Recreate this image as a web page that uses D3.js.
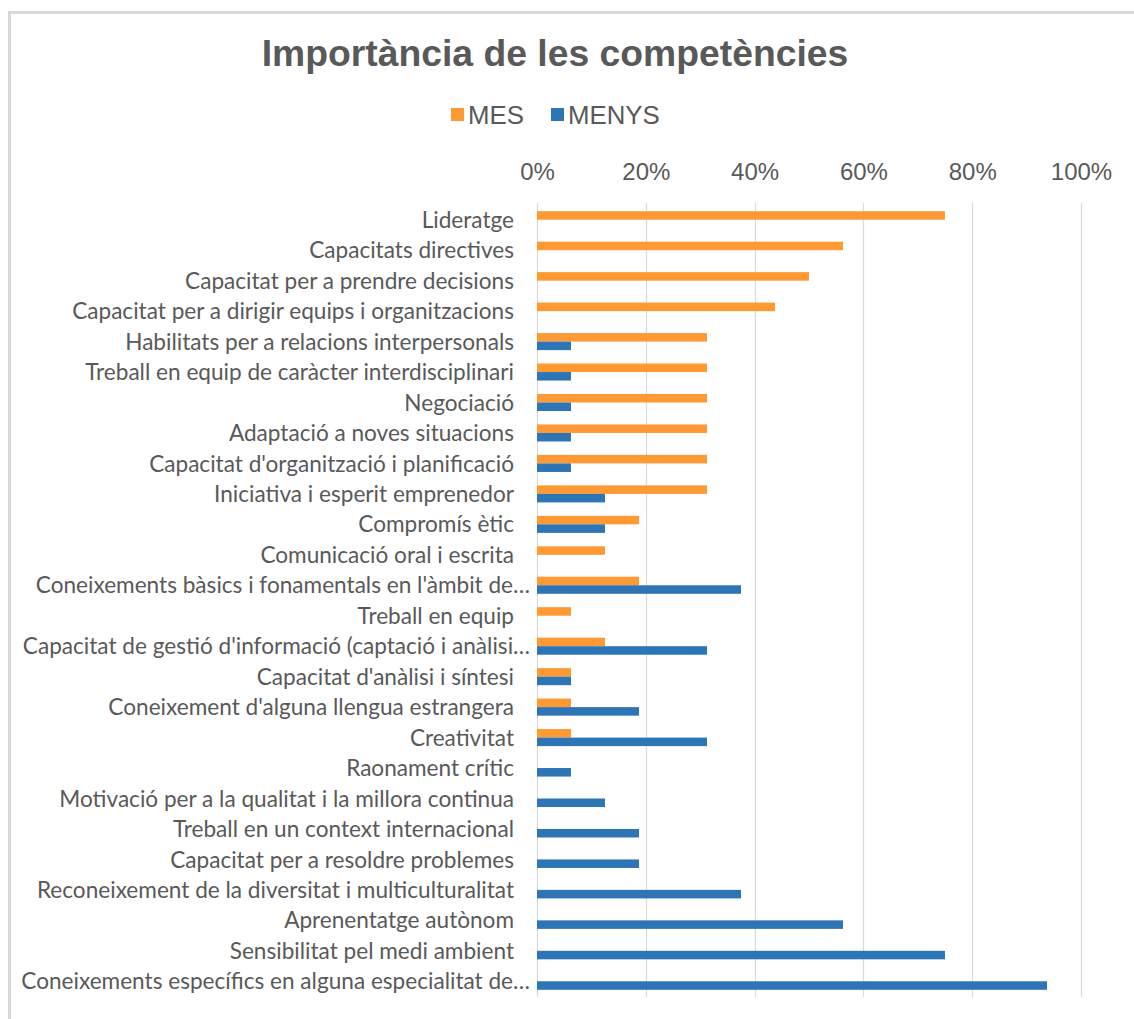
<!DOCTYPE html>
<html>
<head>
<meta charset="utf-8">
<script src="https://cdn.jsdelivr.net/npm/d3@7"></script>
<style>
  html, body { margin: 0; padding: 0; background: #fff; }
  svg { display: block; }
</style>
</head>
<body>
<div id="chart"></div>
<script>
// categories top to bottom
const competencies = [
  "Lideratge",
  "Capacitats directives",
  "Capacitat per a prendre decisions",
  "Capacitat per a dirigir equips i organitzacions",
  "Habilitats per a relacions interpersonals",
  "Treball en equip de caràcter interdisciplinari",
  "Negociació",
  "Adaptació a noves situacions",
  "Capacitat d'organització i planificació",
  "Iniciativa i esperit emprenedor",
  "Compromís ètic",
  "Comunicació oral i escrita",
  "Coneixements bàsics i fonamentals en l'àmbit de…",
  "Treball en equip",
  "Capacitat de gestió d'informació (captació i anàlisi…",
  "Capacitat d'anàlisi i síntesi",
  "Coneixement d'alguna llengua estrangera",
  "Creativitat",
  "Raonament crític",
  "Motivació per a la qualitat i la millora continua",
  "Treball en un context internacional",
  "Capacitat per a resoldre problemes",
  "Reconeixement de la diversitat i multiculturalitat",
  "Aprenentatge autònom",
  "Sensibilitat pel medi ambient",
  "Coneixements específics en alguna especialitat de…"
];

const mesValues = [
  0.75, 0.5625, 0.5, 0.4375, 0.3125, 0.3125, 0.3125, 0.3125, 0.3125, 0.3125,
  0.1875, 0.125, 0.1875, 0.0625, 0.125, 0.0625, 0.0625, 0.0625,
  0, 0, 0, 0, 0, 0, 0, 0
];

const menysValues = [
  0, 0, 0, 0, 0.0625, 0.0625, 0.0625, 0.0625, 0.0625, 0.125,
  0.125, 0, 0.375, 0, 0.3125, 0.0625, 0.1875, 0.3125,
  0.0625, 0.125, 0.1875, 0.1875, 0.375, 0.5625, 0.75, 0.9375
];

const seriesNames = ["MES", "MENYS"];
const seriesColors = ["#FF9933", "#2E75B6"];
const xTicks = [0, 0.2, 0.4, 0.6, 0.8, 1];

const W = 1134, H = 1019;
const textGray = "#595959";

const svg = d3.select("#chart")
  .append("svg")
  .attr("width", W)
  .attr("height", H);

// chart frame (only left and top edges are visible in the crop)
svg.append("line")
  .attr("x1", 9.5).attr("x2", 9.5).attr("y1", 12).attr("y2", H)
  .attr("stroke", "#d9d9d9").attr("stroke-width", 3);
svg.append("line")
  .attr("x1", 8).attr("x2", W).attr("y1", 12.5).attr("y2", 12.5)
  .attr("stroke", "#d9d9d9").attr("stroke-width", 3);

// title
svg.append("text")
  .attr("x", 555)
  .attr("y", 66)
  .attr("text-anchor", "middle")
  .style("font-family", "'Liberation Sans', Arial, sans-serif")
  .style("font-weight", "bold")
  .style("font-size", "37.3px")
  .attr("fill", textGray)
  .text("Importància de les competències");

// legend
const legendItems = [
  { name: seriesNames[0], color: seriesColors[0], x: 451 },
  { name: seriesNames[1], color: seriesColors[1], x: 551 }
];
const legend = svg.append("g");
legendItems.forEach(d => {
  legend.append("rect")
    .attr("x", d.x).attr("y", 108)
    .attr("width", 13).attr("height", 13)
    .attr("fill", d.color);
  legend.append("text")
    .attr("x", d.x + 17)
    .attr("y", 124)
    .style("font-family", "'Liberation Sans', Arial, sans-serif")
    .style("font-size", "25.8px")
    .attr("fill", textGray)
    .text(d.name);
});

// scales
const x = d3.scaleLinear().domain([0, 1]).range([537, 1081]);

const y = d3.scaleBand()
  .domain(competencies)
  .range([204.5, 996.5])
  .paddingInner(0.44)
  .paddingOuter(0.22);

const ySub = d3.scaleBand()
  .domain(seriesNames)
  .range([0, y.bandwidth()]);

// gridlines
svg.append("g")
  .selectAll("line")
  .data(xTicks)
  .join("line")
  .attr("x1", d => Math.round(x(d)) + 0.5)
  .attr("x2", d => Math.round(x(d)) + 0.5)
  .attr("y1", 203)
  .attr("y2", 997)
  .attr("stroke", "#d9d9d9")
  .attr("stroke-width", 1.2);

// top axis with percent labels
const xAxis = svg.append("g")
  .attr("transform", "translate(0,183)")
  .call(d3.axisTop(x).tickValues(xTicks).tickFormat(d3.format(".0%")).tickSize(0));
xAxis.select(".domain").remove();
xAxis.selectAll("text")
  .style("font-family", "'Liberation Sans', Arial, sans-serif")
  .style("font-size", "24px")
  .attr("fill", textGray);

// category labels
const yAxis = svg.append("g")
  .attr("transform", "translate(537,0)")
  .call(d3.axisLeft(y).tickSize(0).tickPadding(23));
yAxis.select(".domain").remove();
yAxis.selectAll("text")
  .style("font-family", "Lato, 'Open Sans', sans-serif")
  .style("font-size", "22.6px")
  .attr("fill", textGray)
  .attr("dy", "0.36em")
  // truncated labels sit closer to the axis, as in the original
  .attr("x", d => d.endsWith("…") ? -7 : -23);

// bars
const rows = competencies.map((c, i) => ({
  name: c,
  values: [
    { series: "MES", value: mesValues[i], color: seriesColors[0] },
    { series: "MENYS", value: menysValues[i], color: seriesColors[1] }
  ]
}));

svg.append("g")
  .selectAll("g")
  .data(rows)
  .join("g")
  .attr("transform", d => `translate(0,${y(d.name)})`)
  .selectAll("rect")
  .data(d => d.values.filter(v => v.value > 0))
  .join("rect")
  .attr("x", x(0))
  .attr("y", d => ySub(d.series))
  .attr("width", d => x(d.value) - x(0))
  .attr("height", ySub.bandwidth())
  .attr("fill", d => d.color);
</script>
</body>
</html>
